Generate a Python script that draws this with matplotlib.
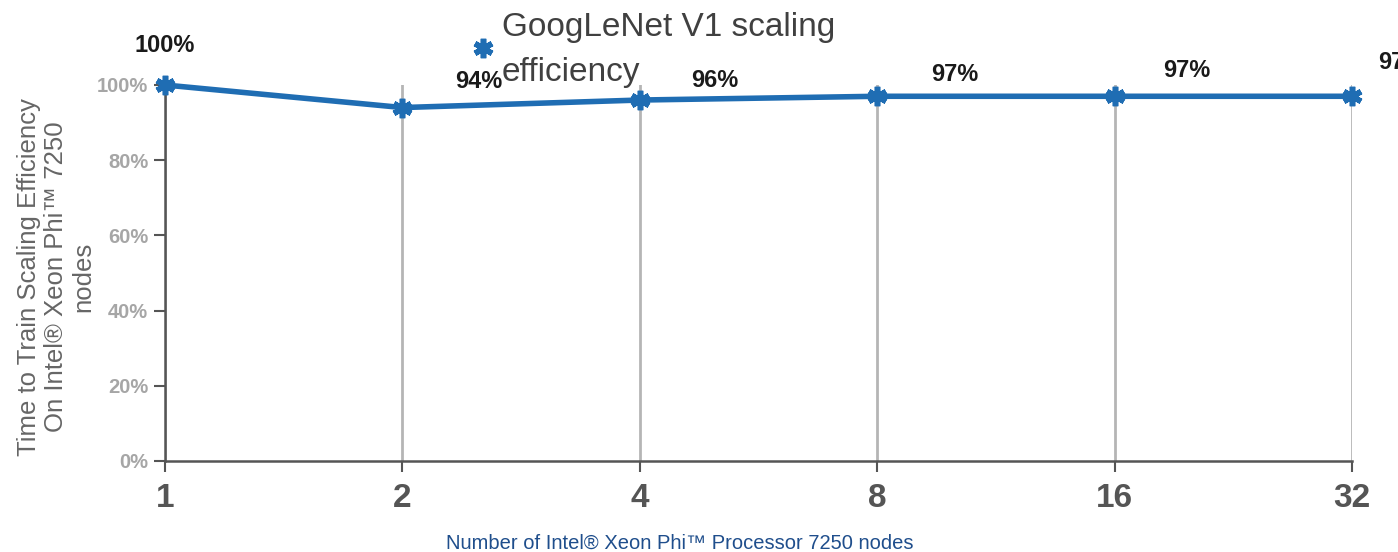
import matplotlib
matplotlib.use("Agg")
import matplotlib.pyplot as plt

nodes      = [1, 2, 4, 8, 16, 32]
efficiency = [1.00, 0.94, 0.96, 0.97, 0.97, 0.97]
labels     = ["100%", "94%", "96%", "97%", "97%", "97%"]
yticks     = [0.0, 0.2, 0.4, 0.6, 0.8, 1.0]
ytick_lbls = ["0%", "20%", "40%", "60%", "80%", "100%"]

plt.rcParams["font.family"] = ["Liberation Sans", "DejaVu Sans"]

LINE = "#1f6db3"

fig = plt.figure(figsize=(13.98, 5.52), dpi=100)
ax = fig.add_axes([165 / 1398, 1 - 461 / 552, (1352 - 165) / 1398, (461 - 85) / 552])

xs = list(range(len(nodes)))
ax.plot(xs, efficiency, color=LINE, linewidth=4, marker=(6, 2, 0),
        markersize=14, markeredgewidth=4, markeredgecolor=LINE, zorder=5,
        clip_on=False)

# label offsets in pixels
offsets = [(0, 40), (76, 26), (75, 20), (78, 22), (72, 26), (50, 34)]
for x, y, t, off in zip(xs, efficiency, labels, offsets):
    ax.annotate(t, (x, y), xytext=off, textcoords="offset pixels",
                ha="center", va="center", fontsize=17, fontweight="bold",
                color="#1a1a1a", annotation_clip=False)

ax.set_xlim(0, len(nodes) - 1)
ax.set_ylim(0, 1.0)
ax.set_xticks(xs)
ax.set_xticklabels([str(n) for n in nodes], fontsize=24, fontweight="bold",
                   color="#555555")
ax.set_yticks(yticks)
ax.set_yticklabels(ytick_lbls, fontsize=14.5, fontweight="bold", color="#a6a6a6")
ax.tick_params(axis="x", length=8, width=1.5, color="#555555", pad=8)
ax.tick_params(axis="y", length=8, width=1.5, color="#555555", pad=4)

ax.grid(axis="x", color="#b5b5b5", linewidth=2)
ax.set_axisbelow(True)
for s in ["top", "right"]:
    ax.spines[s].set_visible(False)
for s in ["left", "bottom"]:
    ax.spines[s].set_color("#555555")
    ax.spines[s].set_linewidth(1.8)

ax.set_ylabel("Time to Train Scaling Efficiency\nOn Intel\u00ae Xeon Phi\u2122 7250\nnodes",
              fontsize=18.5, color="#666666", linespacing=1.15,
              ha="center", va="center")
ax.yaxis.set_label_coords((56 - 165) / 1187, 0.49)

fig.text(680 / 1398, 1 - 543 / 552, "Number of Intel\u00ae Xeon Phi\u2122 Processor 7250 nodes",
         ha="center", va="center", fontsize=14.5, color="#1f4e8c")

# legend
fig.lines.append(plt.Line2D([483 / 1398], [1 - 48 / 552], transform=fig.transFigure,
                            marker=(6, 2, 0), markersize=14, markeredgewidth=4,
                            color=LINE, linestyle="none"))
fig.text(502 / 1398, 1 - 50 / 552, "GoogLeNet V1 scaling\nefficiency",
         ha="left", va="center", fontsize=24, color="#404040",
         linespacing=1.55)

fig.savefig("out.png", dpi=100)
